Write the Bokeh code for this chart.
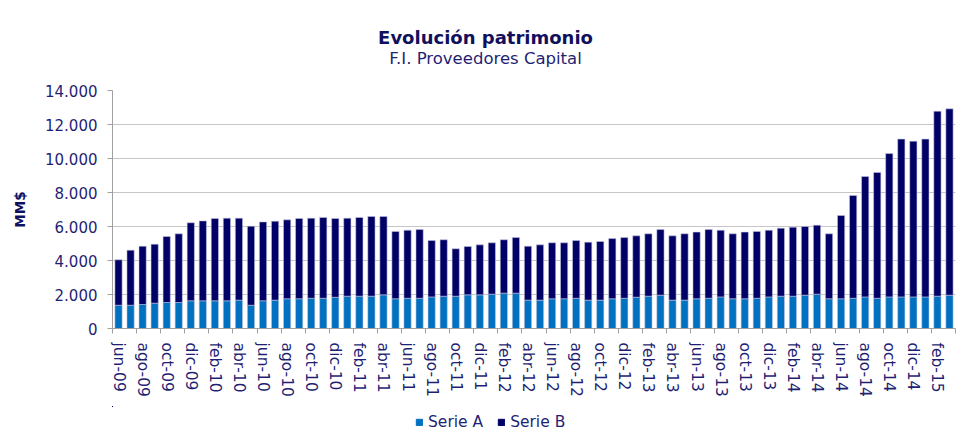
from bokeh.plotting import figure
from bokeh.layouts import column
from bokeh.models import (ColumnDataSource, FixedTicker, Legend, LegendItem, Range1d)
from bokeh.core.properties import value
from bokeh.embed import file_html
from bokeh.resources import INLINE

months = [
    "jun-09", "jul-09", "ago-09", "sep-09", "oct-09", "nov-09", "dic-09",
    "ene-10", "feb-10", "mar-10", "abr-10", "may-10", "jun-10", "jul-10", "ago-10", "sep-10", "oct-10", "nov-10", "dic-10",
    "ene-11", "feb-11", "mar-11", "abr-11", "may-11", "jun-11", "jul-11", "ago-11", "sep-11", "oct-11", "nov-11", "dic-11",
    "ene-12", "feb-12", "mar-12", "abr-12", "may-12", "jun-12", "jul-12", "ago-12", "sep-12", "oct-12", "nov-12", "dic-12",
    "ene-13", "feb-13", "mar-13", "abr-13", "may-13", "jun-13", "jul-13", "ago-13", "sep-13", "oct-13", "nov-13", "dic-13",
    "ene-14", "feb-14", "mar-14", "abr-14", "may-14", "jun-14", "jul-14", "ago-14", "sep-14", "oct-14", "nov-14", "dic-14",
    "ene-15", "feb-15", "mar-15",
]

serie_a = [
    1370, 1370, 1410, 1490, 1530, 1530, 1630,
    1630, 1630, 1630, 1670, 1370, 1630, 1670, 1750, 1750, 1780, 1780, 1840,
    1900, 1900, 1900, 1980, 1750, 1780, 1780, 1860, 1900, 1900, 1980, 1980,
    2020, 2080, 2080, 1670, 1670, 1750, 1750, 1780, 1670, 1670, 1750, 1780,
    1840, 1900, 1960, 1670, 1670, 1750, 1780, 1860, 1750, 1750, 1780, 1860,
    1900, 1900, 1960, 2020, 1750, 1750, 1780, 1860, 1780, 1860, 1860, 1860,
    1860, 1900, 1960,
]

serie_b = [
    2670, 3240, 3430, 3470, 3880, 4040, 4590,
    4700, 4840, 4860, 4820, 4650, 4640, 4640, 4640, 4720, 4710, 4750, 4630,
    4590, 4630, 4690, 4610, 3960, 4000, 4040, 3320, 3320, 2790, 2840, 2940,
    3020, 3140, 3270, 3170, 3250, 3290, 3290, 3400, 3410, 3450, 3540, 3570,
    3610, 3670, 3860, 3780, 3900, 3920, 4040, 3920, 3820, 3920, 3930, 3920,
    4000, 4060, 4040, 4060, 3820, 4900, 6040, 7080, 7400, 8430, 9280, 9160,
    9280, 10880, 10960,
]

y_ticks = [0, 2000, 4000, 6000, 8000, 10000, 12000, 14000]
y_tick_labels = ["0", "2.000", "4.000", "6.000", "8.000", "10.000", "12.000", "14.000"]

title_text = "Evolución patrimonio"
subtitle_text = "F.I. Proveedores Capital"
y_label = "MM$"
series_names = ["Serie A", "Serie B"]
colors = ["#0070C0", "#000066"]

TEXT = "#1F1F74"
TITLE = "#10105E"
FONT = "DejaVu Sans"

# frame geometry shared by all stacked figures (pixels)
LEFT, RIGHT, FRAME_W = 112, 13, 843


def strip(height, x_range, y_range):
    f = figure(frame_width=FRAME_W, frame_height=height, output_backend="svg",
               toolbar_location=None, x_range=x_range, y_range=y_range,
               x_axis_location=None, y_axis_location=None,
               min_border_left=LEFT, min_border_right=RIGHT,
               min_border_top=0, min_border_bottom=0)
    f.outline_line_color = None
    f.xgrid.visible = False
    f.ygrid.visible = False
    return f


# ---------- title strip (data units == canvas pixels) ----------
t = strip(80, Range1d(LEFT, LEFT + FRAME_W), Range1d(80, 0))
t.text(x=[485], y=[37], text=[title_text], text_align="center", text_baseline="middle",
       text_font=value(FONT), text_font_size="18px", text_font_style="bold",
       text_color=TITLE)
t.text(x=[485], y=[58], text=[subtitle_text], text_align="center", text_baseline="middle",
       text_font=value(FONT), text_font_size="16.5px", text_color=TEXT)

# ---------- main chart ----------
idx = list(range(len(months)))
source = ColumnDataSource(dict(x=idx, a=serie_a, b=serie_b, m=months))

p = figure(frame_width=FRAME_W, frame_height=238, output_backend="svg", toolbar_location=None,
           x_range=Range1d(-0.5, len(months) - 0.5), y_range=Range1d(0, 14000),
           min_border_left=LEFT, min_border_right=RIGHT, min_border_top=10,
           min_border_bottom=78)
p.outline_line_color = None

rs = p.vbar_stack(["a", "b"], x="x", width=0.6, color=colors, source=source,
                  line_color="#c8c8e0", line_width=0.8, line_alpha=0.7)

# y axis
p.yaxis.ticker = FixedTicker(ticks=y_ticks)
p.yaxis.major_label_overrides = {tk: lb for tk, lb in zip(y_ticks, y_tick_labels)}
p.yaxis.major_label_text_font = FONT
p.yaxis.major_label_text_font_size = "15px"
p.yaxis.major_label_text_color = TEXT
p.yaxis.major_tick_out = 5
p.yaxis.major_tick_in = 0
p.yaxis.minor_tick_out = 0
p.yaxis.minor_tick_in = 0
p.yaxis.major_label_standoff = 10
p.yaxis.axis_line_color = "#a0a0a0"
p.yaxis.major_tick_line_color = "#a0a0a0"
p.yaxis.axis_label = y_label
p.yaxis.axis_label_text_font = FONT
p.yaxis.axis_label_text_font_size = "13.5px"
p.yaxis.axis_label_text_font_style = "bold"
p.yaxis.axis_label_text_color = TITLE
p.yaxis.axis_label_standoff = 14

# x axis: labels every other month at bar centres, tick marks at boundaries
label_pos = idx[::2]
p.xaxis.ticker = FixedTicker(ticks=label_pos,
                             minor_ticks=[i - 0.5 for i in range(0, len(months) + 1, 2)])
p.xaxis.major_label_overrides = {i: months[i] for i in label_pos}
p.xaxis.major_label_orientation = "vertical"
p.xaxis.major_label_text_font = FONT
p.xaxis.major_label_text_font_size = "15.5px"
p.xaxis.major_label_text_color = TEXT
p.xaxis.major_tick_out = 0
p.xaxis.major_tick_in = 0
p.xaxis.minor_tick_out = 5
p.xaxis.minor_tick_in = 0
p.xaxis.minor_tick_line_color = "#a0a0a0"
p.xaxis.major_label_standoff = 9
p.xaxis.axis_line_color = "#a0a0a0"

p.xgrid.grid_line_color = None
p.ygrid.ticker = FixedTicker(ticks=y_ticks)
p.ygrid.grid_line_color = "#8c8c8c"
p.ygrid.grid_line_dash = "1 1"
p.ygrid.grid_line_width = 1

# ---------- legend strip ----------
# legend keys reuse the series and colours; their bars lie far outside this strip's ranges
lg = strip(40, Range1d(100000, 100843), Range1d(-100040, -100000))
lr = [lg.vbar(x="x", top=col, width=0.6, color=c, source=source)
      for col, c in zip(["a", "b"], colors)]
legend = Legend(items=[LegendItem(label=n, renderers=[r]) for n, r in zip(series_names, lr)],
                orientation="horizontal", location=(303, 15),
                label_text_font=FONT, label_text_font_size="15.5px",
                label_text_color=TEXT, glyph_width=8, glyph_height=8,
                label_standoff=5, spacing=14, padding=0, margin=0,
                border_line_color=None, background_fill_alpha=0)
lg.add_layout(legend, "center")

layout = column(t, p, lg, spacing=0)
open("out.html", "w").write(file_html(layout, INLINE))
